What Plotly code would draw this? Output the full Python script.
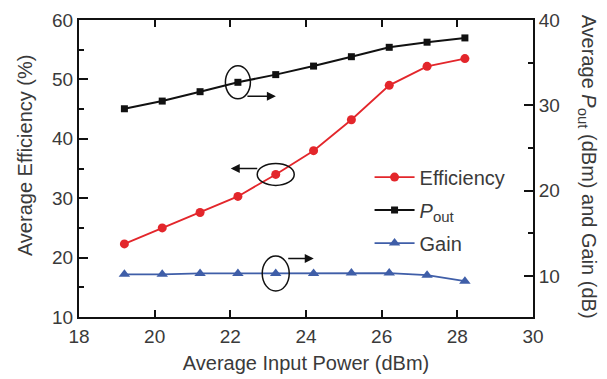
import plotly.graph_objects as go

# ---- data ----
input_power = [19.2, 20.2, 21.2, 22.2, 23.2, 24.2, 25.2, 26.2, 27.2, 28.2]
efficiency = [22.3, 25.0, 27.6, 30.3, 34.0, 38.0, 43.2, 49.0, 52.2, 53.5]
pout = [29.6, 30.5, 31.6, 32.7, 33.6, 34.6, 35.7, 36.8, 37.4, 37.9]
gain = [10.2, 10.2, 10.3, 10.3, 10.3, 10.3, 10.35, 10.35, 10.1, 9.4]
x_ticks = [18, 20, 22, 24, 26, 28, 30]
left_ticks = [10, 20, 30, 40, 50, 60]
right_ticks = [10, 20, 30, 40]

RED = "#e3262b"
BLUE = "#3f5ea8"
BLACK = "#111111"
TXT = "#3a3a3a"
FONT = "Liberation Sans, Arial, sans-serif"
POUT = "<i>P</i><sub><span style='font-size:15px'>out</span></sub>"

fig = go.Figure()
fig.add_trace(go.Scatter(x=input_power, y=efficiency, name="Efficiency", mode="lines+markers",
                         line=dict(color=RED, width=1.8), marker=dict(symbol="circle", size=9, color=RED),
                         legendgroup="a"))
fig.add_trace(go.Scatter(x=input_power, y=pout, name=POUT, mode="lines+markers",
                         line=dict(color=BLACK, width=2), marker=dict(symbol="square", size=7, color=BLACK),
                         yaxis="y2", legendgroup="b"))
fig.add_trace(go.Scatter(x=input_power, y=gain, name="Gain", mode="lines+markers",
                         line=dict(color=BLUE, width=1.8), marker=dict(symbol="triangle-up", size=10, color=BLUE),
                         yaxis="y2", legendgroup="c"))

# ellipses around markers (anchored to data points, sized in pixels)
def ellipse(x, y, yref, w, h):
    fig.add_shape(type="circle", xref="x", yref=yref, xsizemode="pixel", ysizemode="pixel",
                  xanchor=x, yanchor=y, x0=-w / 2, x1=w / 2, y0=-h / 2, y1=h / 2,
                  line=dict(color=BLACK, width=1.5))

def arrow(x, y, yref, xshift, yshift, length):
    fig.add_annotation(x=x, y=y, xref="x", yref=yref, text="", showarrow=True,
                       ax=-length, ay=0, axref="pixel", ayref="pixel",
                       xshift=xshift, yshift=yshift, arrowhead=2, arrowsize=1.2,
                       arrowwidth=1.5, arrowcolor=BLACK)

ellipse(input_power[3], pout[3], "y2", 25, 33)
arrow(input_power[3], pout[3], "y2", 38, -14, 30)
ellipse(input_power[4], efficiency[4], "y", 37, 22)
arrow(input_power[4], efficiency[4], "y", -45, 6, -28)
ellipse(input_power[4], gain[4], "y2", 27, 35)
arrow(input_power[4], gain[4], "y2", 38, 15, 27)

fig.add_annotation(text="Average Efficiency (%)", xref="paper", yref="paper", x=-0.119, y=0.545,
                   xanchor="center", yanchor="middle",
                   textangle=-90, showarrow=False, font=dict(size=20, color=TXT, family=FONT))
fig.add_annotation(text="Average " + POUT + " (dBm) and Gain (dB)", xref="paper", yref="paper",
                   x=1.122, y=0.505, xanchor="center", yanchor="middle", textangle=90, showarrow=False,
                   font=dict(size=20, color=TXT, family=FONT))

fig.update_layout(
    width=607, height=379,
    margin=dict(l=79, r=74, t=20, b=62),
    paper_bgcolor="white", plot_bgcolor="white",
    font=dict(family=FONT, color=TXT, size=19),
    showlegend=True,
    legend=dict(x=0.64, y=0.36, xanchor="left", yanchor="middle", bgcolor="rgba(0,0,0,0)",
                font=dict(size=20, color=TXT), tracegroupgap=4, itemwidth=40),
    xaxis=dict(range=[18, 30], tickvals=x_ticks, ticks="inside", ticklen=7, tickwidth=1.5,
               showline=True, linecolor=BLACK, linewidth=2, mirror="ticks", showgrid=False,
               zeroline=False, tickcolor=BLACK, ticklabelstandoff=1, automargin=False,
               title=dict(text="Average Input Power (dBm)", font=dict(size=20), standoff=10)),
    yaxis=dict(range=[10, 60], tickvals=left_ticks, ticks="inside", ticklen=9, tickwidth=1.5,
               showline=True, linecolor=BLACK, linewidth=2, showgrid=False, zeroline=False, automargin=False,
               tickcolor=BLACK, minor=dict(dtick=5, ticks="inside", ticklen=5, tickcolor=BLACK, tickwidth=1.5)),
    yaxis2=dict(range=[5.2, 40], tickvals=right_ticks, overlaying="y", side="right", ticks="inside",
                ticklen=9, tickwidth=1.5, showline=True, linecolor=BLACK, linewidth=2, showgrid=False,
                zeroline=False, tickcolor=BLACK, automargin=False,
                minor=dict(tickvals=[15, 25, 35], ticks="inside", ticklen=5, tickcolor=BLACK, tickwidth=1.5)),
)

fig.write_html("out.html")
